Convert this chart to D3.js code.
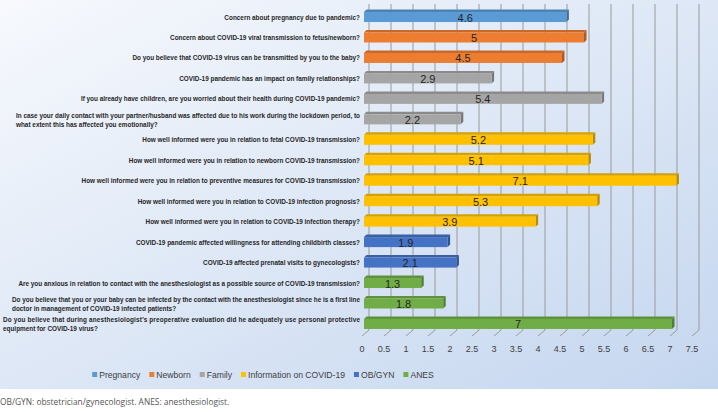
<!DOCTYPE html>
<html>
<head>
<meta charset="utf-8">
<title>COVID-19 survey</title>
<script src="https://d3js.org/d3.v7.min.js"></script>
<style>
  body { margin: 0; background: #fff; }
  svg { display: block; }
</style>
</head>
<body>
<div id="chart"></div>
<script>
// ---- data ----
var questions = [
  ["Concern about pregnancy due to pandemic?"],
  ["Concern about COVID-19 viral transmission to fetus/newborn?"],
  ["Do you believe that COVID-19 virus can be transmitted by you to the baby?"],
  ["COVID-19 pandemic has an impact on family relationships?"],
  ["If you already have children, are you worried about their health during COVID-19 pandemic?"],
  ["In case your daily contact with your partner/husband was affected due to his work during the lockdown period, to",
   "what extent this has affected you emotionally?"],
  ["How well informed were you in relation to fetal COVID-19 transmission?"],
  ["How well informed were you in relation to newborn COVID-19 transmission?"],
  ["How well informed were you in relation to preventive measures for COVID-19 transmission?"],
  ["How well informed were you in relation to COVID-19 infection prognosis?"],
  ["How well informed were you in relation to COVID-19 infection therapy?"],
  ["COVID-19 pandemic affected willingness for attending childbirth classes?"],
  ["COVID-19 affected prenatal visits to gynecologists?"],
  ["Are you anxious in relation to contact with the anesthesiologist as a possible source of COVID-19 transmission?"],
  ["Do you believe that you or your baby can be infected by the contact with the anesthesiologist since he is a first line",
   "doctor in management of COVID-19 infected patients?"],
  ["Do you believe that during anesthesiologist\u2019s preoperative evaluation did he adequately use personal protective",
   "equipment for COVID-19 virus?"]
];
var values = [4.6, 5, 4.5, 2.9, 5.4, 2.2, 5.2, 5.1, 7.1, 5.3, 3.9, 1.9, 2.1, 1.3, 1.8, 7];
var groups = ["Pregnancy", "Newborn", "Newborn", "Family", "Family", "Family",
  "Information on COVID-19", "Information on COVID-19", "Information on COVID-19",
  "Information on COVID-19", "Information on COVID-19",
  "OB/GYN", "OB/GYN", "ANES", "ANES", "ANES"];
var legendNames = ["Pregnancy", "Newborn", "Family", "Information on COVID-19", "OB/GYN", "ANES"];
var legendColors = ["#5b9bd5", "#ed7d31", "#a5a5a5", "#ffc000", "#4472c4", "#70ad47"];
var ticks = [0, 0.5, 1, 1.5, 2, 2.5, 3, 3.5, 4, 4.5, 5, 5.5, 6, 6.5, 7, 7.5];

var width = 718, height = 412;
var depth = 5;        // back wall offset
var barH = 10;
var font = "'Liberation Sans', Arial, sans-serif";

var svg = d3.select("#chart").append("svg")
  .attr("width", width)
  .attr("height", height);

var defs = svg.append("defs");
var bg = defs.append("linearGradient")
  .attr("id", "bg")
  .attr("x1", "0").attr("y1", "0").attr("x2", "1").attr("y2", "1");
bg.append("stop").attr("offset", "0%").attr("stop-color", "#f7f9fd");
bg.append("stop").attr("offset", "100%").attr("stop-color", "#c4d6ef");

svg.append("rect")
  .attr("x", 0).attr("y", 0)
  .attr("width", width).attr("height", 389)
  .attr("fill", "url(#bg)");

var color = d3.scaleOrdinal().domain(legendNames).range(legendColors);

var x = d3.scaleLinear().domain([0, 7.5]).range([364, 694]);
var y = d3.scalePoint()
  .domain(d3.range(values.length))
  .range([6.8, 334.2])
  .padding(0.5);

var wallTop = 4, wallBottom = 330, floorFront = 336;

// gridlines (back wall + floor)
var grid = svg.append("g");
grid.selectAll("line.wall").data(ticks).enter().append("line")
  .attr("class", "wall")
  .attr("x1", function(d){ return x(d) + depth; })
  .attr("x2", function(d){ return x(d) + depth; })
  .attr("y1", wallTop)
  .attr("y2", wallBottom)
  .attr("stroke", "#9a9a9a")
  .attr("stroke-width", 1);
grid.selectAll("line.floor").data(ticks).enter().append("line")
  .attr("class", "floor")
  .attr("x1", function(d){ return x(d) + depth; })
  .attr("x2", function(d){ return x(d) - 2; })
  .attr("y1", wallBottom)
  .attr("y2", floorFront)
  .attr("stroke", "#9a9a9a")
  .attr("stroke-width", 1);

// tick labels
svg.append("g").selectAll("text").data(ticks).enter().append("text")
  .attr("x", function(d){ return x(d) - 2; })
  .attr("y", 352)
  .attr("text-anchor", "middle")
  .attr("font-family", font)
  .attr("font-size", 9)
  .attr("fill", "#404040")
  .text(function(d){ return d; });

// bars
var d = 2.5;
var bars = svg.append("g").selectAll("g").data(values).enter().append("g");

bars.append("path")
  .attr("d", function(v, i){
    var x0 = x(0), x1 = x(v), t = y(i) - barH / 2;
    return "M" + x0 + "," + t + "L" + (x0 + d) + "," + (t - d) +
      "L" + (x1 + d) + "," + (t - d) + "L" + x1 + "," + t + "Z";
  })
  .attr("fill", function(v, i){ return d3.color(color(groups[i])).darker(0.5); });

bars.append("path")
  .attr("d", function(v, i){
    var x1 = x(v), t = y(i) - barH / 2;
    return "M" + x1 + "," + t + "L" + (x1 + d) + "," + (t - d) +
      "L" + (x1 + d) + "," + (t + barH - d) + "L" + x1 + "," + (t + barH) + "Z";
  })
  .attr("fill", function(v, i){ return d3.color(color(groups[i])).darker(0.9); });

bars.append("rect")
  .attr("x", x(0))
  .attr("y", function(v, i){ return y(i) - barH / 2; })
  .attr("width", function(v){ return x(v) - x(0); })
  .attr("height", barH)
  .attr("fill", function(v, i){ return color(groups[i]); });

bars.append("text")
  .attr("x", function(v){ return (x(0) + x(v)) / 2; })
  .attr("y", function(v, i){ return y(i) + 4.5; })
  .attr("text-anchor", "middle")
  .attr("font-family", font)
  .attr("font-size", 11)
  .attr("fill", "#262626")
  .text(function(v){ return v; });

// category labels
var labelRight = 360;
var firstLineLeft = {5: 16, 14: 12, 13: 3, 15: 3};
var labels = svg.append("g").selectAll("g").data(questions).enter().append("g");
labels.each(function(lines, i){
  var g = d3.select(this);
  var yc = y(i);
  var t = g.append("text")
    .attr("x", labelRight)
    .attr("y", lines.length === 1 ? yc + 2.5 : yc - 1.5)
    .attr("text-anchor", "end")
    .attr("font-family", font)
    .attr("font-weight", "bold")
    .attr("font-size", 6.4)
    .text(lines[0]);
  var w = t.node().getComputedTextLength();
  if (firstLineLeft[i] !== undefined && w > labelRight - firstLineLeft[i]) {
    w = labelRight - firstLineLeft[i];
    t.attr("textLength", w).attr("lengthAdjust", "spacingAndGlyphs");
  } else if (lines.length > 1) {
    w = labelRight - firstLineLeft[i];
    t.attr("textLength", w).attr("lengthAdjust", "spacing");
  }
  if (lines.length > 1) {
    g.append("text")
      .attr("x", labelRight - w)
      .attr("y", yc + 7.5)
      .attr("font-family", font)
      .attr("font-weight", "bold")
      .attr("font-size", 6.4)
      .text(lines[1]);
  }
});
labels.selectAll("text").attr("fill", "#262626");

// legend, laid out from measured text widths and centred
var legend = svg.append("g").attr("transform", "translate(0,375)");
var items = legend.selectAll("g").data(legendNames).enter().append("g");
items.append("rect")
  .attr("x", 0).attr("y", -3)
  .attr("width", 5).attr("height", 5)
  .attr("fill", function(n){ return color(n); });
items.append("text")
  .attr("x", 7)
  .attr("y", 3.2)
  .attr("font-family", font)
  .attr("font-size", 8.6)
  .attr("fill", "#404040")
  .text(function(n){ return n; });
var gap = 9, pos = 0, offsets = [];
items.each(function(){
  offsets.push(pos);
  pos += 7 + d3.select(this).select("text").node().getComputedTextLength() + gap;
});
var total = pos - gap, start = 263 - total / 2;
items.attr("transform", function(n, i){ return "translate(" + (start + offsets[i]) + ",0)"; });

// footnote
svg.append("text")
  .attr("x", 0)
  .attr("y", 405)
  .attr("font-family", "'Open Sans', sans-serif")
  .attr("font-size", 8.4)
  .attr("fill", "#555")
  .text("OB/GYN: obstetrician/gynecologist. ANES: anesthesiologist.");
</script>
</body>
</html>
